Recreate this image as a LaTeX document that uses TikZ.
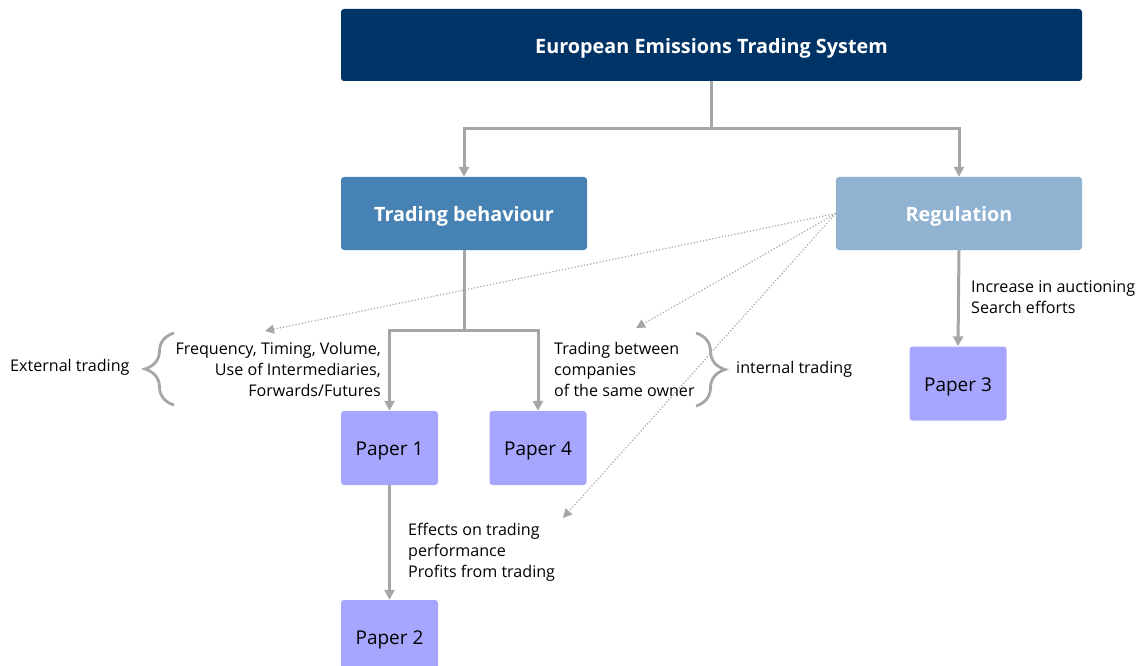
\documentclass[tikz,border=0pt]{standalone}
\usepackage{fontspec}
\setmainfont{Open Sans}
\usetikzlibrary{arrows.meta,decorations.pathreplacing}
\definecolor{navy}{RGB}{0,51,102}
\definecolor{tbblue}{RGB}{70,130,180}
\definecolor{regblue}{RGB}{143,179,209}
\definecolor{paper}{RGB}{166,166,255}
\definecolor{conngray}{RGB}{166,166,166}
\newcommand{\dn}[1]{\raisebox{-3pt}[\height][\depth]{#1}}
\begin{document}
\begin{tikzpicture}[x=1pt,y=-1pt,
  box/.style={rounded corners=3pt, inner sep=0pt, align=center},
  headbox/.style={box, text=white, font=\fontsize{19.8}{23}\selectfont\bfseries},
  paperbox/.style={box, fill=paper, minimum width=97pt, minimum height=74pt, font=\fontsize{19}{23}\selectfont},
  conn/.style={draw=conngray, line width=3pt, -{Triangle[length=10pt,width=10pt]}},
  dots/.style={draw=conngray, line width=1.2pt, dotted, -{Triangle[length=9pt,width=9pt]}},
  lbl/.style={inner sep=0pt, font=\fontsize{16.1}{21}\selectfont},
  bracestyle/.style={draw=conngray, line width=2.8pt, decorate, decoration={brace, amplitude=29pt}}
]
\useasboundingbox (0,0) rectangle (1144,666);
\clip (0,0) rectangle (1144,666);
\node[headbox, fill=navy, minimum width=741pt, minimum height=72pt] (ets) at (711.5,45) {\dn{European Emissions Trading System}};
\node[headbox, fill=tbblue, minimum width=246pt, minimum height=73pt] (tb) at (464,213.5) {\dn{Trading behaviour}};
\node[headbox, fill=regblue, minimum width=246pt, minimum height=73pt] (reg) at (959,213.5) {\dn{Regulation}};
\node[paperbox] (p1) at (389.5,448) {\dn{Paper 1}};
\node[paperbox] (p4) at (538,448) {\dn{Paper 4}};
\node[paperbox] (p2) at (389.5,637) {\dn{Paper 2}};
\node[paperbox] (p3) at (958,383.5) {\dn{Paper 3}};

\path (ets.south) -- ++(0,47) coordinate (j1);
\draw[conn] (ets.south) -- (j1) -| (tb.north);
\draw[conn] (ets.south) -- (j1) -| (reg.north);
\path (tb.south) -- ++(0,80) coordinate (j2);
\draw[conn] (tb.south) -- (j2) -| (p1.north);
\draw[conn] (tb.south) -- (j2) -| (p4.north);
\draw[conn] (p1.south) -- (p2.north);
\draw[conn] (reg.south) -- (p3.north);

\coordinate (d1) at (265,331);
\coordinate (d2) at (636,328);
\coordinate (d3) at (563,518);
\draw[dots] (reg.west) -- (d1);
\draw[dots] (reg.west) -- (d2);
\draw[dots] (reg.west) -- (d3);

\node[lbl, anchor=east, align=right] (ext) at (381,369) {Frequency, Timing, Volume,\\Use of Intermediaries,\\Forwards/Futures};
\node[lbl, anchor=west, align=left] (int) at (554,369) {Trading between\\companies\\of the same owner};
\node[lbl, anchor=west, align=left] (auc) at (971,297) {Increase in auctioning\\Search efforts};
\node[lbl, anchor=west, align=left] (eff) at (408,552) {Effects on trading\\performance\\Profits from trading};
\node[lbl, anchor=west] (extl) at (10,367) {External trading};
\node[lbl, anchor=west] (intl) at (736,369) {internal trading};

\coordinate (b1s) at (174,405);
\coordinate (b1e) at (174,333);
\coordinate (b2s) at (696,333);
\coordinate (b2e) at (696,406);
\draw[bracestyle] (b1s) -- (b1e);
\draw[bracestyle] (b2s) -- (b2e);
\end{tikzpicture}
\end{document}
